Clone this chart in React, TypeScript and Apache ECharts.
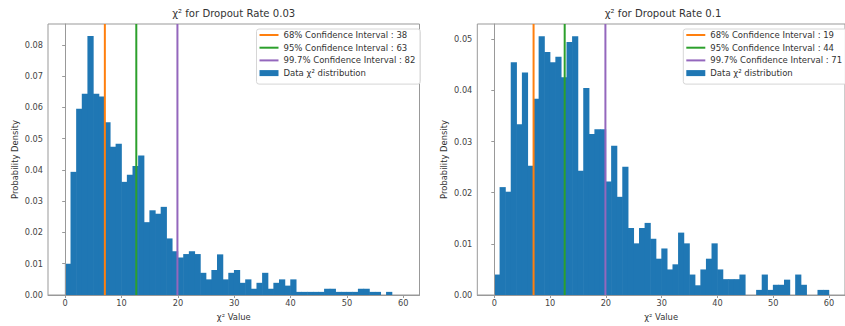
import React, { useEffect, useRef } from "react";
import * as echarts from "echarts";

// Histogram densities (bin width 1, bins start at 0)
const LEFT_DENSITY = [
  0.0100, 0.0394, 0.0596, 0.0644, 0.0829, 0.0644, 0.0635, 0.0553, 0.0474, 0.0484,
  0.0362, 0.0385, 0.0413, 0.0446, 0.0233, 0.0271, 0.0260, 0.0282, 0.0181, 0.0140,
  0.0120, 0.0131, 0.0140, 0.0131, 0.0071, 0.0050, 0.0080, 0.0130, 0.0050, 0.0071,
  0.0080, 0.0039, 0.0050, 0.0020, 0.0039, 0.0071, 0.0020, 0.0039, 0.0050, 0.0030,
  0.0050, 0.0010, 0.0010, 0.0010, 0.0010, 0.0010, 0.0020, 0.0020, 0.0010, 0.0010,
  0.0010, 0.0010, 0.0020, 0.0020, 0.0010, 0.0010, 0.0000, 0.0010,
];
const RIGHT_DENSITY = [
  0.0040, 0.0211, 0.0202, 0.0455, 0.0334, 0.0435, 0.0253, 0.0384, 0.0506, 0.0475,
  0.0455, 0.0466, 0.0426, 0.0495, 0.0506, 0.0243, 0.0405, 0.0315, 0.0324, 0.0324,
  0.0222, 0.0292, 0.0192, 0.0251, 0.0131, 0.0101, 0.0131, 0.0141, 0.0110, 0.0071,
  0.0091, 0.0050, 0.0060, 0.0122, 0.0101, 0.0040, 0.0019, 0.0050, 0.0071, 0.0101,
  0.0050, 0.0031, 0.0031, 0.0031, 0.0040, 0.0000, 0.0000, 0.0010, 0.0040, 0.0010,
  0.0020, 0.0020, 0.0030, 0.0000, 0.0040, 0.0020, 0.0000, 0.0000, 0.0010, 0.0010,
];
const BIN_WIDTH = 1;

const X_TICKS = [0, 10, 20, 30, 40, 50, 60];
const LEFT_Y_TICKS = [0, 0.01, 0.02, 0.03, 0.04, 0.05, 0.06, 0.07, 0.08];
const RIGHT_Y_TICKS = [0, 0.01, 0.02, 0.03, 0.04, 0.05];

const CI_VALUES = [7.04, 12.62, 19.92];
const CI_COLORS = ["#ff7f0e", "#2ca02c", "#9467bd"];
const LEFT_CI_LABELS = [
  "68% Confidence Interval : 38",
  "95% Confidence Interval : 63",
  "99.7% Confidence Interval : 82",
];
const RIGHT_CI_LABELS = [
  "68% Confidence Interval : 19",
  "95% Confidence Interval : 44",
  "99.7% Confidence Interval : 71",
];
const HIST_NAME = "Data χ² distribution";
const TITLES = ["χ² for Dropout Rate 0.03", "χ² for Dropout Rate 0.1"];

const X_MIN = -3.05;
const X_MAX = 62.88;
const LEFT_Y_MAX = 0.0867;
const RIGHT_Y_MAX = 0.053;

const FONT = "DejaVu Sans";
const BAR_COLOR = "#1f77b4";
const SPINE = "#999999";
const LINE_ICON = "path://M0,0H19V2H0Z";
const RECT_ICON = "path://M0,0H19V6H0Z";

const GRIDS = [
  { left: 48, top: 24, width: 371.5, height: 271.7 },
  { left: 477.3, top: 24, width: 371.5, height: 271.7 },
];

export default function App() {
  const ref = useRef<HTMLDivElement>(null);

  useEffect(() => {
    if (!ref.current) return;
    const chart = echarts.init(ref.current, null, { renderer: "svg" });

    const panels = [
      { density: LEFT_DENSITY, yMax: LEFT_Y_MAX, yTicks: LEFT_Y_TICKS, labels: LEFT_CI_LABELS },
      { density: RIGHT_DENSITY, yMax: RIGHT_Y_MAX, yTicks: RIGHT_Y_TICKS, labels: RIGHT_CI_LABELS },
    ];

    const renderItem = (params: any, api: any) => {
      const x0 = api.value(0);
      const x1 = api.value(1);
      const y = api.value(2);
      const p0 = api.coord([x0, y]);
      const p1 = api.coord([x1, 0]);
      const h = p1[1] - p0[1];
      if (h <= 0) return null;
      return {
        type: "rect",
        shape: { x: p0[0] - 0.3, y: p0[1], width: p1[0] - p0[0] + 0.6, height: h },
        style: { fill: BAR_COLOR, stroke: null, lineWidth: 0 },
      };
    };

    const xAxis = panels.map((_, i) => ({
      type: "value",
      gridIndex: i,
      min: X_MIN,
      max: X_MAX,
      z: 10,
      axisLine: { show: true, lineStyle: { color: SPINE, width: 1 } },
      axisTick: { show: true, length: 3, lineStyle: { color: SPINE }, customValues: X_TICKS },
      axisLabel: {
        customValues: X_TICKS,
        fontSize: 8.2,
        color: "#444",
        fontFamily: FONT,
        margin: 4,
      },
      splitLine: { show: false },
      name: "χ² Value",
      nameLocation: "middle",
      nameGap: 18,
      nameTextStyle: { fontSize: 8.4, color: "#333", fontFamily: FONT },
    }));

    const yAxis = panels.map((p, i) => ({
      type: "value",
      gridIndex: i,
      min: 0,
      max: p.yMax,
      z: 10,
      axisLine: { show: true, lineStyle: { color: SPINE, width: 1 } },
      axisTick: { show: true, length: 3, lineStyle: { color: SPINE }, customValues: p.yTicks },
      axisLabel: {
        customValues: p.yTicks,
        formatter: (v: number) => v.toFixed(2),
        fontSize: 8.2,
        color: "#444",
        fontFamily: FONT,
        margin: 5,
      },
      splitLine: { show: false },
      name: "Probability Density",
      nameLocation: "middle",
      nameGap: 29,
      nameTextStyle: { fontSize: 8.4, color: "#333", fontFamily: FONT },
    }));

    const series: any[] = [];
    panels.forEach((p, i) => {
      series.push({
        type: "custom",
        name: HIST_NAME,
        xAxisIndex: i,
        yAxisIndex: i,
        color: BAR_COLOR,
        itemStyle: { color: BAR_COLOR },
        data: p.density.map((d, k) => [k * BIN_WIDTH, (k + 1) * BIN_WIDTH, d]),
        encode: { x: [0, 1], y: 2 },
        renderItem,
        z: 2,
        silent: true,
      });
      CI_VALUES.forEach((v, j) => {
        series.push({
          type: "line",
          name: p.labels[j],
          xAxisIndex: i,
          yAxisIndex: i,
          color: CI_COLORS[j],
          data: [
            [v, 0],
            [v, p.yMax],
          ],
          symbol: "none",
          showSymbol: false,
          lineStyle: { color: CI_COLORS[j], width: 2 },
          itemStyle: { color: CI_COLORS[j] },
          z: 3,
          silent: true,
        });
      });
    });

    const legendLefts = [256.5, 683.3];
    const legend = panels.map((p, i) => ({
      orient: "vertical",
      left: legendLefts[i],
      top: 29,
      selectedMode: false,
      data: [
        ...p.labels.map((n) => ({ name: n, icon: LINE_ICON })),
        { name: HIST_NAME, icon: RECT_ICON },
      ],
      itemWidth: 19,
      itemHeight: 6,
      itemGap: 2.7,
      padding: [1, 5, 6, 3],
      backgroundColor: "rgba(255,255,255,0.85)",
      borderColor: "#d6d6d6",
      borderWidth: 1,
      borderRadius: 2.5,
      itemStyle: { borderWidth: 0 },
      lineStyle: { width: 0 },
      textStyle: { fontSize: 8.5, color: "#333", fontFamily: FONT, lineHeight: 10 },
    }));

    const title = TITLES.map((t, i) => ({
      text: t,
      left: GRIDS[i].left + GRIDS[i].width / 2,
      top: 8,
      textAlign: "center",
      padding: 0,
      textStyle: { fontSize: 10.1, fontWeight: "normal", color: "#333", fontFamily: FONT },
    }));

    chart.setOption({
      animation: false,
      backgroundColor: "#ffffff",
      textStyle: { fontFamily: FONT },
      title,
      legend,
      grid: GRIDS.map((g) => ({
        ...g,
        show: true,
        borderColor: SPINE,
        borderWidth: 1,
        backgroundColor: "transparent",
        containLabel: false,
      })),
      xAxis,
      yAxis,
      series,
    });

    return () => chart.dispose();
  }, []);

  return (
    <div style={{ position: "fixed", left: 0, top: 0, width: 845, height: 326, overflow: "hidden", background: "#fff" }}>
      <div ref={ref} style={{ width: 845, height: 326 }} />
    </div>
  );
}
